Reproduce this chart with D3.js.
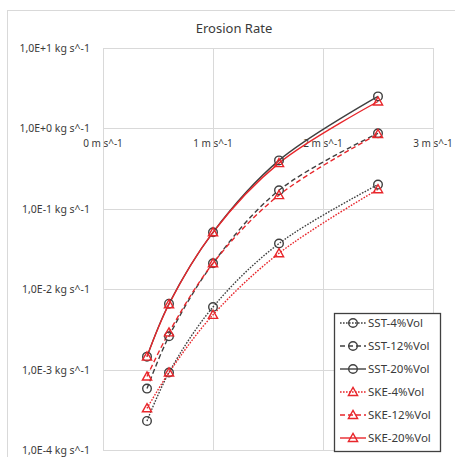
<!DOCTYPE html>
<html><head><meta charset="utf-8">
<script src="https://cdn.jsdelivr.net/npm/d3@7"></script>
<style>body{margin:0;background:#fff}svg{display:block}text{font-family:"Noto Sans",sans-serif;fill:#3a3a3a}</style>
</head><body><svg id="c" width="455" height="457"></svg>
<script>
const velocities = [0.4, 0.6, 1.0, 1.6, 2.5];
const sst4  = [2.3e-4, 9.2e-4, 6.0e-3, 0.037, 0.20];
const sst12 = [5.8e-4, 2.6e-3, 0.021, 0.17, 0.87];
const sst20 = [1.45e-3, 6.6e-3, 0.051, 0.40, 2.5];
const ske4  = [3.3e-4, 9.2e-4, 4.8e-3, 0.028, 0.175];
const ske12 = [8.2e-4, 2.9e-3, 0.021, 0.148, 0.85];
const ske20 = [1.45e-3, 6.5e-3, 0.051, 0.37, 2.16];
const seriesNames = ["SST-4%Vol","SST-12%Vol","SST-20%Vol","SKE-4%Vol","SKE-12%Vol","SKE-20%Vol"];
const xTicks = [0,1,2,3];
const yTicks = [1e1,1e0,1e-1,1e-2,1e-3,1e-4];
const yTickLabels = ["1,0E+1 kg s^-1","1,0E+0 kg s^-1","1,0E-1 kg s^-1","1,0E-2 kg s^-1","1,0E-3 kg s^-1","1,0E-4 kg s^-1"];
const xTickLabels = ["0 m s^-1","1 m s^-1","2 m s^-1","3 m s^-1"];
const title = "Erosion Rate";

const allValues = [sst4,sst12,sst20,ske4,ske12,ske20];
const styles = [
  {color:"#404040", dash:"1.6,1.4", marker:"circle"},
  {color:"#404040", dash:"5,3", marker:"circle"},
  {color:"#404040", dash:null, marker:"circle"},
  {color:"#e8262b", dash:"1.6,1.4", marker:"triangle"},
  {color:"#e8262b", dash:"5,3", marker:"triangle"},
  {color:"#e8262b", dash:null, marker:"triangle"}
];

const svg = d3.select("#c");
svg.append("rect").attr("x",7.5).attr("y",10.5).attr("width",460).attr("height",460)
  .attr("fill","#fff").attr("stroke","#d9d9d9");

const x = d3.scaleLinear().domain([0,3]).range([103,433]);
const y = d3.scaleLog().domain([1e-4,1e1]).range([450,48]);

const g = svg.append("g");
g.selectAll(".vg").data(xTicks).join("line")
  .attr("x1",d=>x(d)+0.5).attr("x2",d=>x(d)+0.5).attr("y1",y(1e1)).attr("y2",y(1e-4))
  .attr("stroke","#d9d9d9").attr("stroke-width",1);
g.selectAll(".hg").data(yTicks).join("line")
  .attr("y1",d=>Math.round(y(d))+0.5).attr("y2",d=>Math.round(y(d))+0.5).attr("x1",x(0)).attr("x2",x(3))
  .attr("stroke","#d9d9d9").attr("stroke-width",1);

svg.selectAll(".yl").data(yTicks).join("text")
  .attr("x",90).attr("y",d=>y(d)+4).attr("text-anchor","end")
  .attr("font-size","10.5px").text((d,i)=>yTickLabels[i]);
svg.selectAll(".xl").data(xTicks).join("text")
  .attr("x",d=>x(d)).attr("y",y(1)+19).attr("text-anchor","middle")
  .attr("font-size","10px").text((d,i)=>xTickLabels[i]);

svg.append("text").attr("x",234).attr("y",33).attr("text-anchor","middle")
  .attr("font-size","13px").text(title);

const line = d3.line().x(d=>x(d[0])).y(d=>y(d[1])).curve(d3.curveCatmullRom);

function marker(sel, type, color){
  if(type==="circle"){
    sel.append("circle").attr("r",4.3).attr("fill","none").attr("stroke",color).attr("stroke-width",1.4);
  } else {
    sel.append("path").attr("d","M0,-4.6L4.6,3.5L-4.6,3.5Z").attr("fill","none").attr("stroke",color).attr("stroke-width",1.4);
  }
}

allValues.forEach((vals,i)=>{
  const s = styles[i];
  const pts = velocities.map((v,j)=>[v, vals[j]]);
  svg.append("path").attr("d",line(pts)).attr("fill","none").attr("stroke",s.color)
    .attr("stroke-width",1.4).attr("stroke-dasharray",s.dash);
});
allValues.forEach((vals,i)=>{
  const s = styles[i];
  velocities.forEach((v,j)=>{
    const m = svg.append("g").attr("transform",`translate(${x(v)},${y(vals[j])})`);
    marker(m, s.marker, s.color);
  });
});

const lg = svg.append("g");
lg.append("rect").attr("x",334.5).attr("y",313.5).attr("width",106).attr("height",138)
  .attr("fill","#fff").attr("stroke","#404040").attr("stroke-width",1.3);
seriesNames.forEach((n,i)=>{
  const s = styles[i];
  const yy = 323 + i*23;
  lg.append("line").attr("x1",340).attr("x2",366).attr("y1",yy).attr("y2",yy)
    .attr("stroke",s.color).attr("stroke-width",1.4).attr("stroke-dasharray",s.dash);
  const m = lg.append("g").attr("transform",`translate(353,${yy})`);
  marker(m, s.marker, s.color);
  lg.append("text").attr("x",368).attr("y",yy+4).attr("font-size","11.5px").text(n);
});
</script></body></html>
